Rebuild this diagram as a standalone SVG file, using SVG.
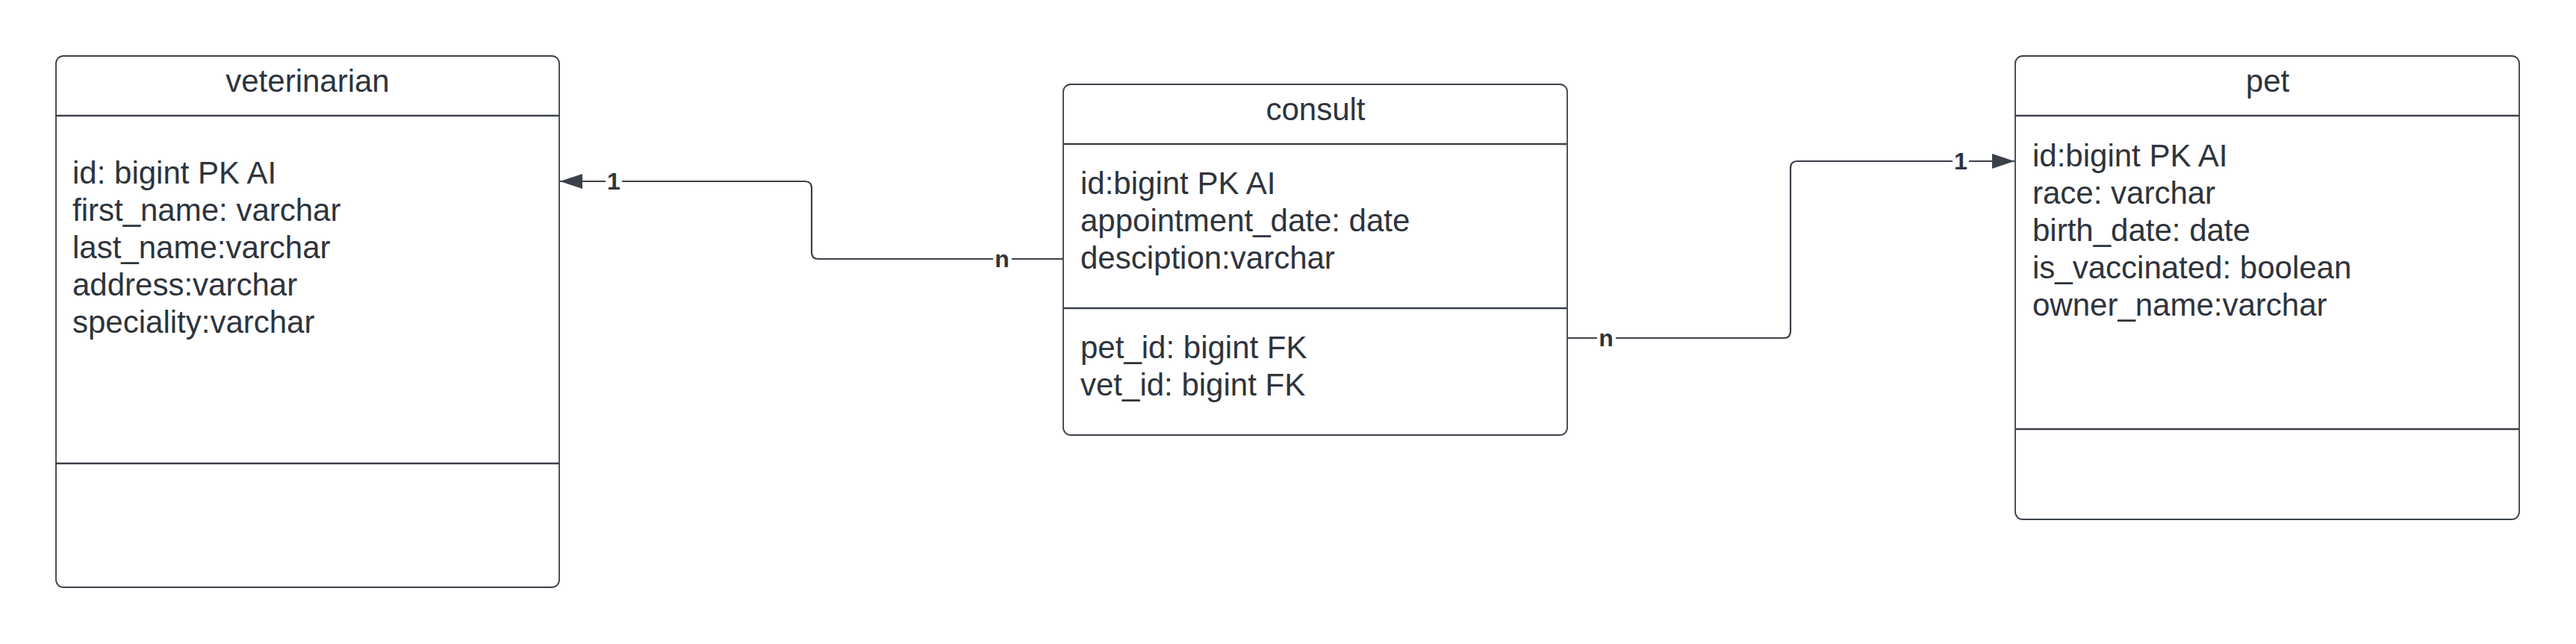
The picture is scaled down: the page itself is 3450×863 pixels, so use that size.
<svg xmlns="http://www.w3.org/2000/svg" width="3450" height="863" viewBox="0 0 3450 863">
<style>
.box{fill:#fff;stroke:#3a414a;stroke-width:1.8}
.div{stroke:#3a414a;stroke-width:2.4}
.t{font-family:"Liberation Sans",Arial,sans-serif;font-size:42px;fill:#2e343c}
.title{text-anchor:middle}
.conn{fill:none;stroke:#3a414a;stroke-width:2.2}
.lbl{font-family:"Liberation Sans",Arial,sans-serif;font-size:32px;font-weight:bold;fill:#2e343c;text-anchor:middle}
</style>
<defs>
<marker id="arr" viewBox="0 0 30 20" refX="30" refY="10" markerWidth="30" markerHeight="20" markerUnits="userSpaceOnUse" orient="auto">
<path d="M0,0 L30,10 L0,20 Z" fill="#3a414a"/>
</marker>
</defs>
<rect width="3450" height="863" fill="#fff"/>
<g id="veterinarian">
<rect class="box" x="75" y="75" width="674" height="712" rx="10"/>
<line class="div" x1="75" y1="155" x2="749" y2="155"/>
<line class="div" x1="75" y1="621" x2="749" y2="621"/>
<text class="t title" x="412" y="123">veterinarian</text>
<text class="t" x="97" y="246">id: bigint PK AI</text>
<text class="t" x="97" y="296">first_name: varchar</text>
<text class="t" x="97" y="346">last_name:varchar</text>
<text class="t" x="97" y="396">address:varchar</text>
<text class="t" x="97" y="446">speciality:varchar</text>
</g>
<g id="consult">
<rect class="box" x="1424" y="113" width="675" height="470" rx="10"/>
<line class="div" x1="1424" y1="193" x2="2099" y2="193"/>
<line class="div" x1="1424" y1="413" x2="2099" y2="413"/>
<text class="t title" x="1762" y="161">consult</text>
<text class="t" x="1447" y="260">id:bigint PK AI</text>
<text class="t" x="1447" y="310">appointment_date: date</text>
<text class="t" x="1447" y="360">desciption:varchar</text>
<text class="t" x="1447" y="480">pet_id: bigint FK</text>
<text class="t" x="1447" y="530">vet_id: bigint FK</text>
</g>
<g id="pet">
<rect class="box" x="2699" y="75" width="675" height="621" rx="10"/>
<line class="div" x1="2699" y1="155" x2="3374" y2="155"/>
<line class="div" x1="2699" y1="575" x2="3374" y2="575"/>
<text class="t title" x="3037" y="123">pet</text>
<text class="t" x="2722" y="223">id:bigint PK AI</text>
<text class="t" x="2722" y="273">race: varchar</text>
<text class="t" x="2722" y="323">birth_date: date</text>
<text class="t" x="2722" y="373">is_vaccinated: boolean</text>
<text class="t" x="2722" y="423">owner_name:varchar</text>
</g>
<g id="connectors">
<path class="conn" d="M1424,347 L1096,347 Q1087,347 1087,338 L1087,252 Q1087,243 1078,243 L750,243" marker-end="url(#arr)"/>
<rect x="811" y="228" width="22" height="30" fill="#fff"/>
<text class="lbl" x="822" y="254">1</text>
<rect x="1330" y="332" width="25" height="30" fill="#fff"/>
<text class="lbl" x="1342" y="358">n</text>
<path class="conn" d="M2099,453 L2389,453 Q2398,453 2398,444 L2398,225 Q2398,216 2407,216 L2698,216" marker-end="url(#arr)"/>
<rect x="2139" y="438" width="25" height="30" fill="#fff"/>
<text class="lbl" x="2151" y="464">n</text>
<rect x="2615" y="201" width="22" height="30" fill="#fff"/>
<text class="lbl" x="2626" y="227">1</text>
</g>
</svg>
